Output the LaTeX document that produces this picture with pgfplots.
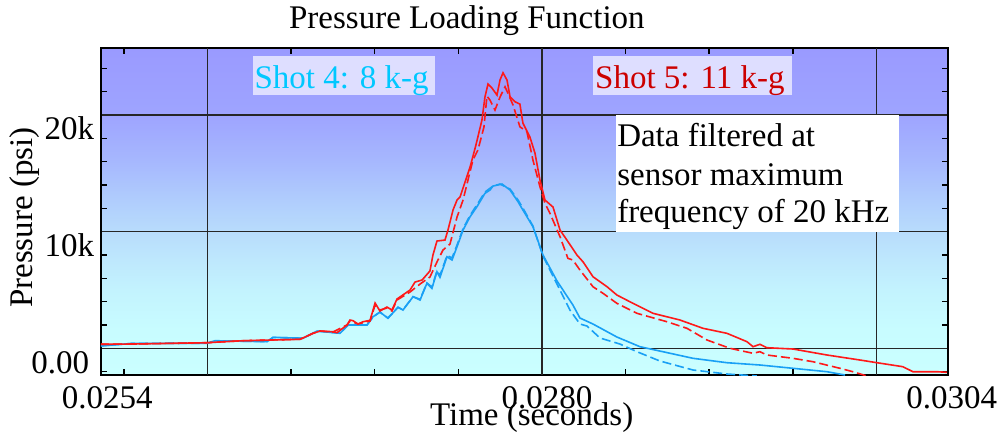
\documentclass[border=0pt]{standalone}
\usepackage{pgfplots}
\pgfplotsset{compat=1.18}
\usepackage{fontspec}
\setmainfont{Liberation Serif}
\definecolor{redc}{RGB}{255,25,25}
\definecolor{bluec}{RGB}{25,160,245}
\definecolor{shotblue}{RGB}{0,200,255}
\definecolor{shotred}{RGB}{204,0,0}
\definecolor{boxc}{RGB}{222,222,255}
\definecolor{bgA}{RGB}{202,255,255}
\definecolor{bgB}{RGB}{200,252,255}
\definecolor{bgC}{RGB}{195,243,254}
\definecolor{bgD}{RGB}{190,232,253}
\definecolor{bgE}{RGB}{184,220,252}
\definecolor{bgF}{RGB}{176,205,253}
\definecolor{bgG}{RGB}{166,183,254}
\definecolor{bgH}{RGB}{158,164,255}
\definecolor{bgI}{RGB}{154,154,255}
\pgfdeclareverticalshading{bgshade}{100bp}{color(0bp)=(bgA); color(25bp)=(bgA); color(31.87bp)=(bgB); color(37.98bp)=(bgC); color(42.57bp)=(bgD); color(46.85bp)=(bgE); color(51.73bp)=(bgF); color(57.84bp)=(bgG); color(64.72bp)=(bgH); color(75bp)=(bgI); color(100bp)=(bgI)}
\newcommand{\bigfont}{\fontsize{33}{38}\selectfont}

\pgfplotstableread{
x y
0.025357 343
0.025555 368
0.025997 480
0.026212 651
0.026553 771
0.026631 1285
0.026673 1482
0.026750 1422
0.026774 1337
0.026834 1997
0.026852 2425
0.026870 2365
0.026900 2082
0.026930 2279
0.026972 2399
0.027002 3882
0.027031 3196
0.027073 3539
0.027103 3282
0.027133 4225
0.027211 4996
0.027241 5681
0.027283 5853
0.027330 6624
0.027348 7995
0.027372 9195
0.027420 9280
0.027438 10137
0.027468 11851
0.027492 12708
0.027510 12965
0.027570 15536
0.027605 17420
0.027641 19563
0.027659 21534
0.027677 22648
0.027701 22305
0.027731 21705
0.027749 22991
0.027767 23616
0.027791 22991
0.027809 21560
0.027839 21131
0.027868 20934
0.027886 19306
0.027928 18106
0.027958 16735
0.027988 14422
0.028018 12708
0.028066 12108
0.028108 10137
0.028149 9280
0.028209 7995
0.028245 7421
0.028305 6135
0.028389 5279
0.028448 4567
0.028544 3856
0.028664 2999
0.028825 2425
0.028963 1714
0.029106 1285
0.029226 566
0.029262 137
0.029303 343
0.029345 51
0.029501 -60
0.029704 -574
0.029901 -1003
0.030003 -1234
0.030158 -1577
0.030218 -2005
0.030362 -2005
0.030421 -2057
}\redsolid

\pgfplotstableread{
x y
0.025357 343
0.025555 368
0.025997 480
0.026212 651
0.026553 771
0.026631 1285
0.026673 1482
0.026750 1397
0.026834 1997
0.026852 2339
0.026900 2082
0.026972 2339
0.027002 3710
0.027031 3282
0.027073 3453
0.027103 3196
0.027133 4139
0.027211 4824
0.027271 5510
0.027330 6110
0.027372 7395
0.027408 8423
0.027450 8937
0.027492 11251
0.027528 12708
0.027587 16135
0.027617 16992
0.027653 18963
0.027671 21620
0.027689 21277
0.027719 20420
0.027749 21534
0.027779 22417
0.027797 21851
0.027827 20848
0.027868 18989
0.027910 18561
0.027946 16135
0.027988 13848
0.028018 12425
0.028048 11568
0.028108 9563
0.028155 7712
0.028185 7567
0.028227 6710
0.028305 5279
0.028365 4713
0.028448 3856
0.028568 2999
0.028747 2279
0.028867 1714
0.028987 711
0.029124 0
0.029262 -428
0.029303 -291
0.029345 -574
0.029501 -857
0.029620 -1148
0.029782 -1714
0.029859 -2005
0.029943 -2374
}\reddashed

\pgfplotstableread{
x y
0.025357 197
0.025555 428
0.025997 428
0.026045 651
0.026356 566
0.026392 943
0.026571 857
0.026655 1482
0.026792 1285
0.026840 1997
0.026954 1997
0.026990 2708
0.027031 3111
0.027079 2571
0.027139 3513
0.027169 3282
0.027229 4422
0.027271 4139
0.027312 5570
0.027342 5141
0.027372 6564
0.027390 6084
0.027432 7849
0.027462 7567
0.027492 8706
0.027528 10137
0.027570 11277
0.027611 12134
0.027659 13282
0.027689 13565
0.027707 13907
0.027761 14079
0.027809 13565
0.027857 12562
0.027886 11851
0.027946 10420
0.028006 7995
0.028090 5767
0.028185 3710
0.028227 2596
0.028305 2082
0.028448 968
0.028586 137
0.028723 -291
0.028903 -857
0.029106 -1234
0.029303 -1431
0.029501 -1714
0.029704 -2005
0.029812 -2288
}\bluesolid

\pgfplotstableread{
x y
0.025357 210
0.025555 420
0.025997 440
0.026045 640
0.026356 580
0.026392 930
0.026571 870
0.026655 1470
0.026792 1300
0.026840 1980
0.026954 2010
0.026990 2690
0.027031 3100
0.027079 2600
0.027139 3520
0.027169 3300
0.027229 4430
0.027271 4200
0.027312 5600
0.027342 5250
0.027372 6650
0.027390 6250
0.027432 7950
0.027462 7750
0.027492 8850
0.027528 10250
0.027570 11400
0.027611 12300
0.027659 13393
0.027707 13907
0.027749 14079
0.027809 13650
0.027857 12708
0.027886 12022
0.027946 10480
0.028006 7909
0.028090 5510
0.028167 3282
0.028227 2082
0.028269 1911
0.028347 883
0.028466 368
0.028568 -291
0.028705 -1088
0.028903 -1859
0.029106 -2202
0.029285 -2374
}\bluedashed

\begin{document}
\begin{tikzpicture}[font=\bigfont]
\path[use as bounding box] (-101pt,-57pt) rectangle (901pt,375pt);
\begin{axis}[
  at={(0pt,0pt)}, anchor=south west,
  scale only axis, width=847pt, height=327.3pt,
  xmin=0.025363, xmax=0.030428, ymin=-2288, ymax=25767,
  axis background/.style={shading=bgshade},
  axis line style={line width=2pt},
  scaled x ticks=false, scaled y ticks=false,
  xtick={0.0254,0.0280,0.0304},
  xticklabels={0.0254,{\kern10pt 0.0280},{\kern17pt 0.0304}},
  minor xtick={0.0255,0.0265,0.0270,0.0275,0.0285,0.0290,0.0295},
  extra x ticks={0.026,0.028,0.030},
  extra x tick labels={},
  extra x tick style={grid=major},
  ytick={0,10000,20000},
  yticklabels={0.00\kern5pt,10k,20k},
  minor ytick={-2000,2000,4000,6000,8000,12000,14000,16000,18000,22000,24000},
  ymajorgrids=true,
  major tick length=0pt, minor tick length=6pt,
  tick style={black, line width=1.5pt},
  major grid style={black!85, line width=1.4pt},
  tick label style={font=\bigfont},
  xticklabel style={anchor=base, inner sep=0pt, yshift=-33pt},
  yticklabel style={anchor=base east, inner sep=0pt, yshift=-25pt, xshift=-6.7pt},
  title={Pressure Loading Function},
  title style={at={(0.432,1.0388)}, anchor=base, inner sep=0pt, font=\bigfont},
  xlabel={Time (seconds)},
  xlabel style={at={(axis description cs:0.5085,-0.1528)}, anchor=base, inner sep=0pt, font=\bigfont},
  ylabel={Pressure (psi)},
  ylabel style={at={(axis description cs:-0.0811,0.481)}, anchor=base, inner sep=0pt, font=\bigfont},
]
\addplot[bluec, line width=1.6pt, dash pattern=on 9pt off 4pt] table {\bluedashed};
\addplot[bluec, line width=1.6pt] table {\bluesolid};
\addplot[redc, line width=1.6pt, dash pattern=on 9pt off 4pt] table {\reddashed};
\addplot[redc, line width=1.6pt] table {\redsolid};
\node[fill=boxc, anchor=north west, inner sep=0pt, minimum width=182pt, minimum height=39pt] at (axis cs:0.026272,25047) {};
\node[anchor=base west, inner sep=0pt, text=shotblue] at (axis cs:0.026280,22300) {Shot 4: 8 k-g};
\node[fill=boxc, anchor=north west, inner sep=0pt, minimum width=199pt, minimum height=39pt] at (axis cs:0.028305,25047) {};
\node[anchor=base west, inner sep=0pt, text=shotred] at (axis cs:0.028317,22300) {Shot 5: 11 k-g};
\node[fill=white, anchor=north west, inner sep=0pt, minimum width=283pt, minimum height=116.7pt] at (axis cs:0.028442,20000) {};
\node[anchor=base west, inner sep=0pt] at (axis cs:0.028449,17275) {Data filtered at};
\node[anchor=base west, inner sep=0pt] at (axis cs:0.028449,13993) {sensor maximum};
\node[anchor=base west, inner sep=0pt] at (axis cs:0.028449,10763) {frequency of 20 kHz};
\end{axis}
\end{tikzpicture}
\end{document}
